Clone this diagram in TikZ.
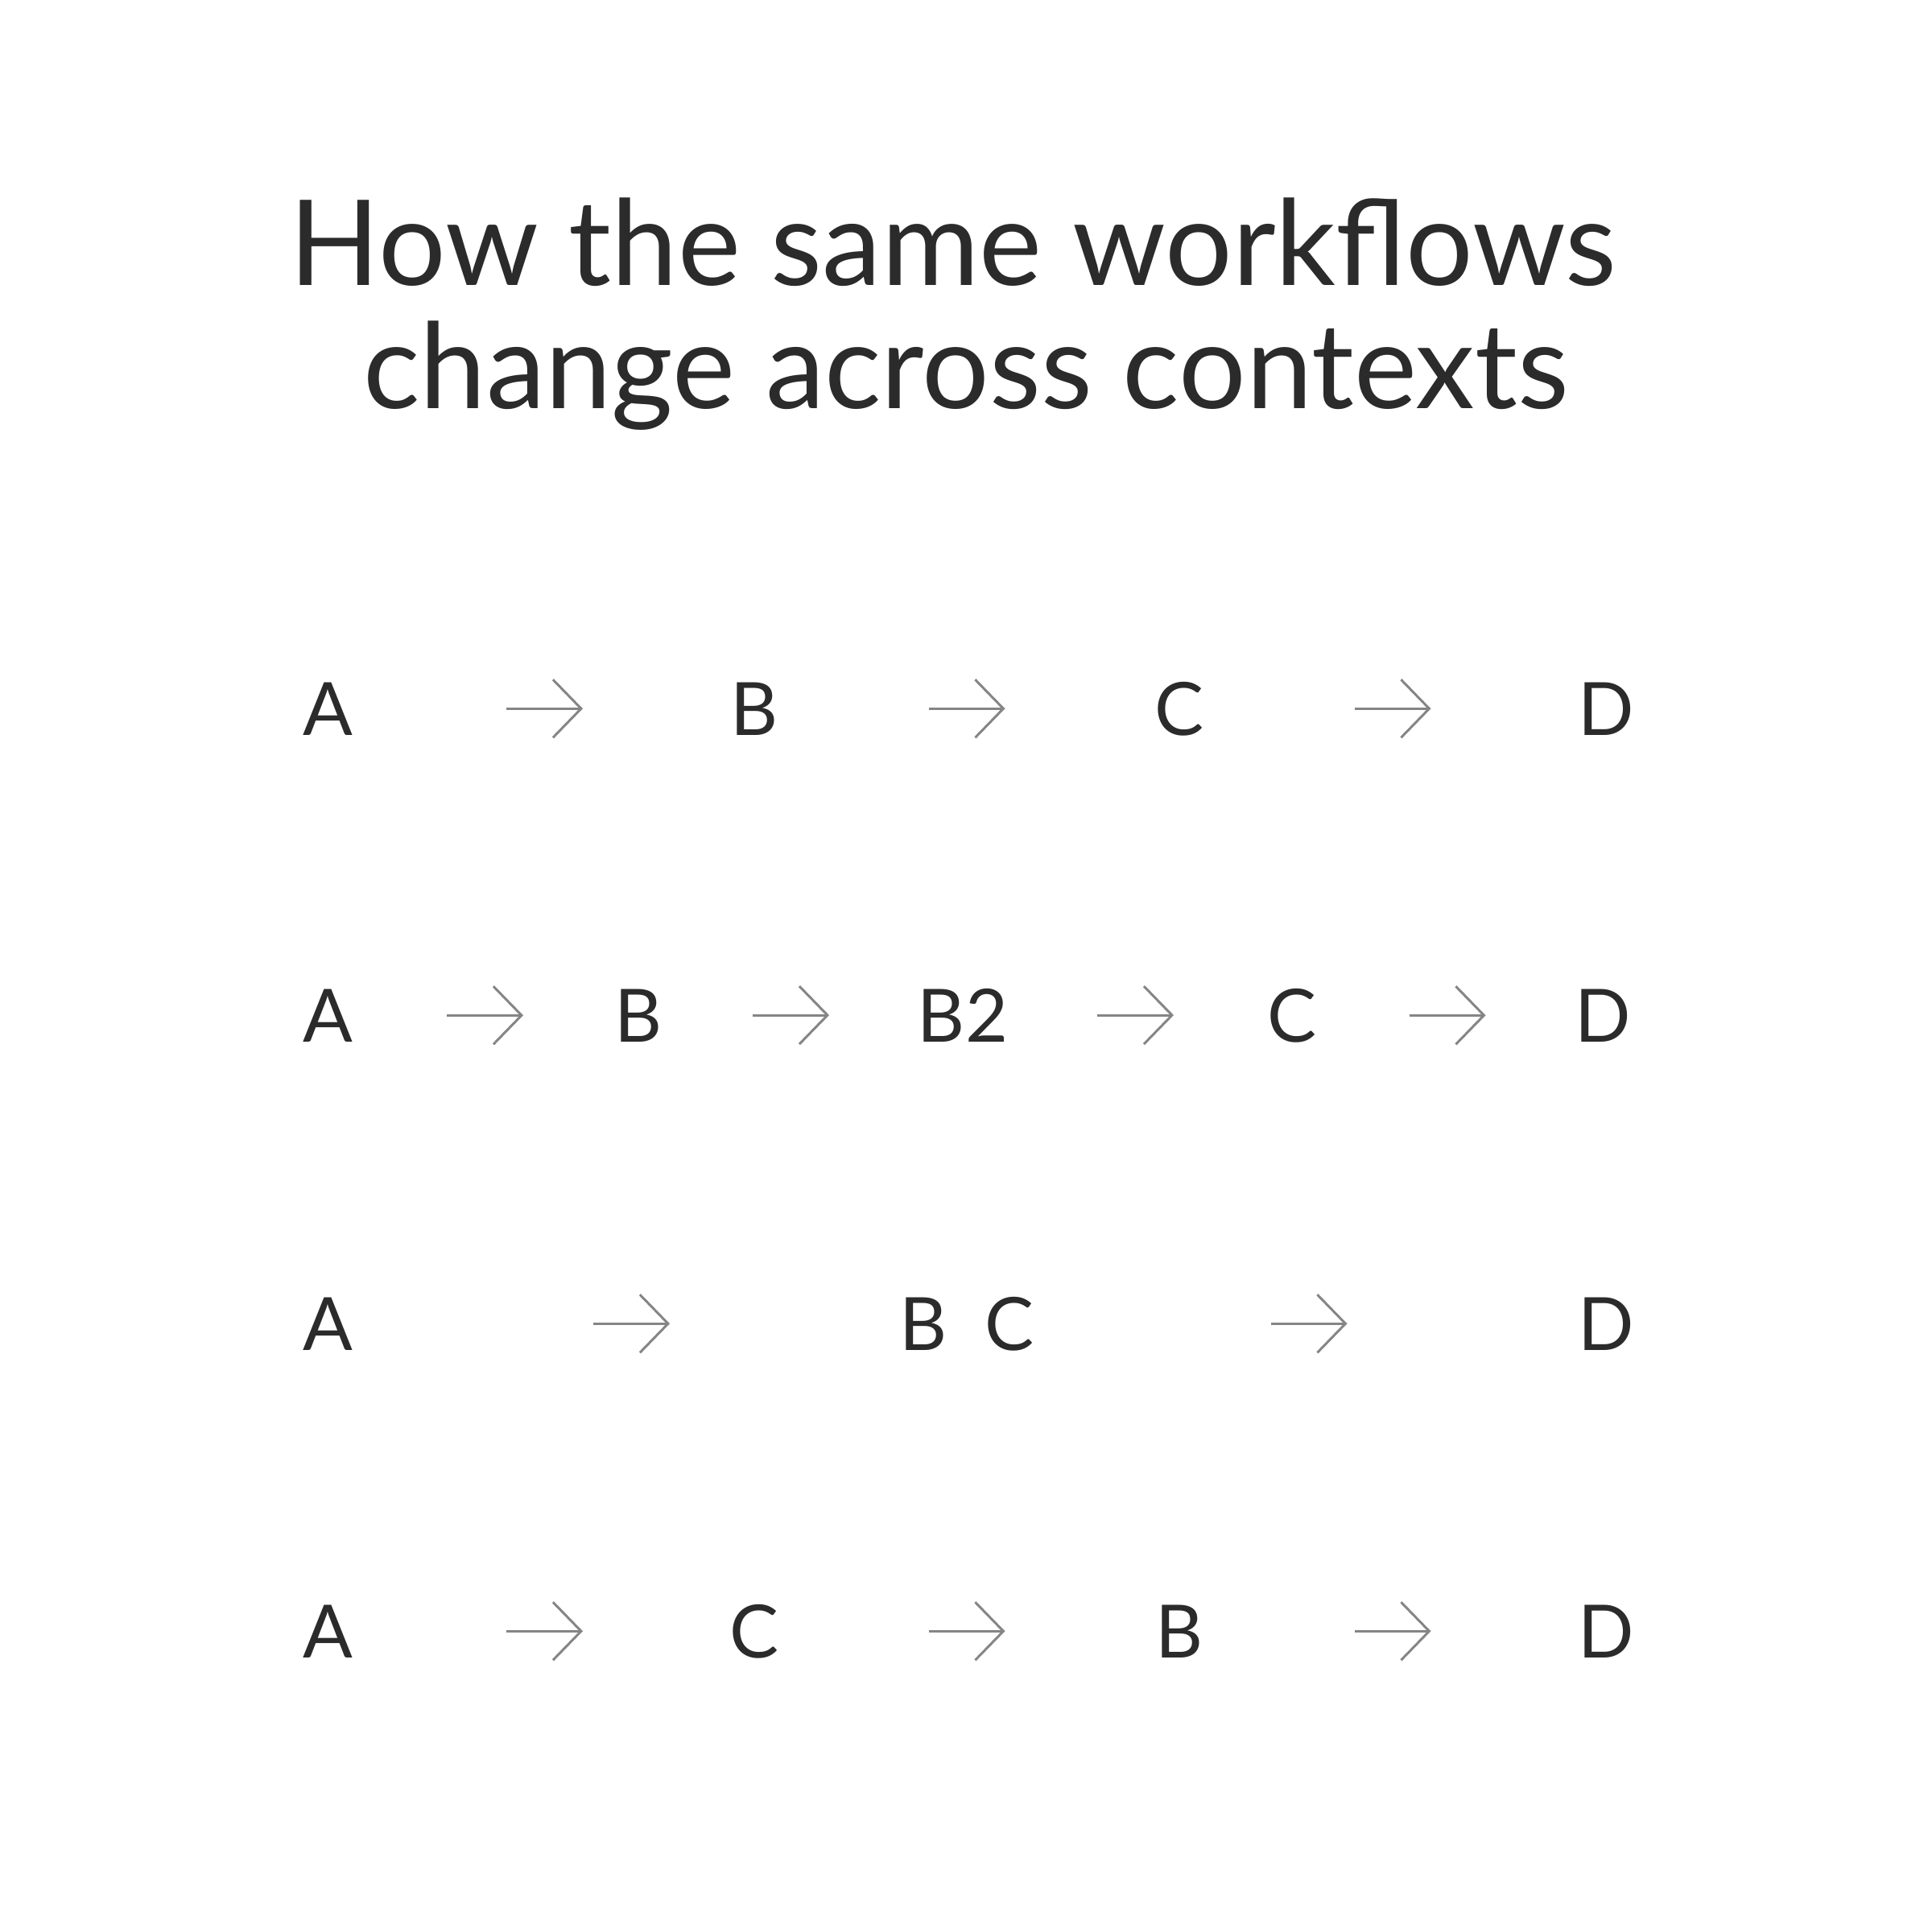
\documentclass[tikz,border=0pt]{standalone}
\usepackage{fontspec}
\setmainfont{Lato}
\usetikzlibrary{calc, arrows.meta}
\definecolor{ink}{HTML}{2B2B2B}
\definecolor{arrowgray}{HTML}{858585}
\tikzset{
    headline/.style={text=ink, inner sep=0pt, anchor=base, font=\fontsize{42}{42}\selectfont},
    letter/.style={text=ink, inner sep=0pt, anchor=base, font=\fontsize{26}{26}\selectfont},
    flow/.style={draw=arrowgray, line width=0.85pt, -{Straight Barb[length=0.35cm, width=0.72cm]}}
}
% arrow centred between two nodes, optional sideways nudge
\newcommand{\flowarrow}[3][0]{\draw[flow] ($(#2)!.5!(#3)+(#1-0.475,0)$) -- ++(0.95,0);}

\begin{document}
\begin{tikzpicture}
    \useasboundingbox (0,0) rectangle (24,-24);

    \node[headline] (title1) at (11.84,-3.55) {How the same workflows};
    \node[headline] (title2) at (12.00,-5.08) {change across contexts};

    % row 1
    \node[letter] (a1) at (4.07,-9.13) {A};
    \node[letter] (b1) at (9.37,-9.13) {B};
    \node[letter] (c1) at (14.65,-9.13) {C};
    \node[letter] (d1) at (19.95,-9.13) {D};
    \flowarrow[0.045]{a1}{b1}
    \flowarrow{b1}{c1}
    \flowarrow{c1}{d1}

    % row 2
    \node[letter] (a2) at (4.07,-12.94) {A};
    \node[letter] (b2) at (7.93,-12.94) {B};
    \node[letter] (bb2) at (11.96,-12.94) {B2};
    \node[letter] (c2) at (16.05,-12.94) {C};
    \node[letter] (d2) at (19.91,-12.94) {D};
    \flowarrow[0.025]{a2}{b2}
    \flowarrow[-0.12]{b2}{bb2}
    \flowarrow[0.10]{bb2}{c2}
    \flowarrow{c2}{d2}

    % row 3
    \node[letter] (a3) at (4.07,-16.77) {A};
    \node[letter] (b3) at (11.47,-16.77) {B};
    \node[letter] (c3) at (12.54,-16.77) {C};
    \node[letter] (d3) at (19.95,-16.77) {D};
    \flowarrow[0.075]{a3}{b3}
    \flowarrow[0.015]{c3}{d3}

    % row 4
    \node[letter] (a4) at (4.07,-20.59) {A};
    \node[letter] (c4) at (9.37,-20.59) {C};
    \node[letter] (b4) at (14.65,-20.59) {B};
    \node[letter] (d4) at (19.95,-20.59) {D};
    \flowarrow[0.045]{a4}{c4}
    \flowarrow{c4}{b4}
    \flowarrow{b4}{d4}
\end{tikzpicture}
\end{document}
